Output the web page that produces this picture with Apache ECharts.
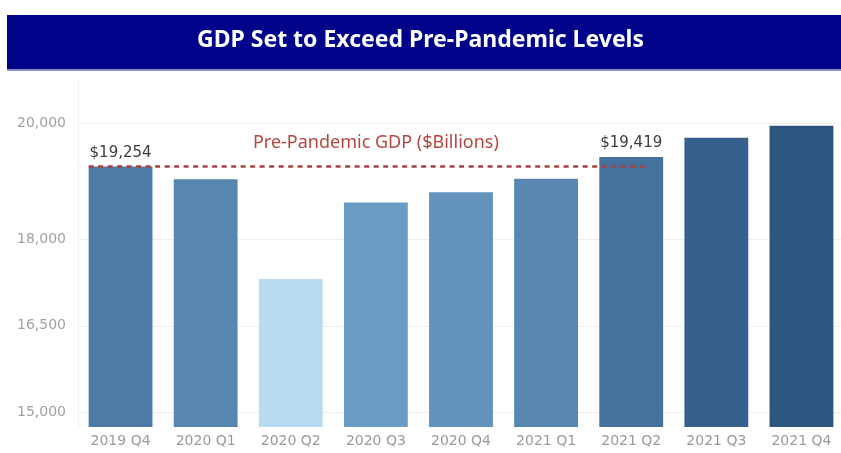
<!DOCTYPE html>
<html>
<head>
<meta charset="utf-8">
<title>GDP Set to Exceed Pre-Pandemic Levels</title>
<script src="https://cdn.jsdelivr.net/npm/echarts@6/dist/echarts.min.js"></script>
<style>
    html, body { margin: 0; padding: 0; background: #fff; }
    #gdp_chart { width: 841px; height: 453px; }
</style>
</head>
<body>
<div id="gdp_chart"></div>
<script>
// 季度
var quarters = ['2019 Q4', '2020 Q1', '2020 Q2', '2020 Q3', '2020 Q4', '2021 Q1', '2021 Q2', '2021 Q3', '2021 Q4'];
// GDP ($Billions)
var gdpValues = [19254, 19036, 17311, 18631, 18811, 19041, 19419, 19751, 19958];
// 带数值标签的柱子
var labelledQuarters = ['2019 Q4', '2021 Q2'];
// 纵轴显示的刻度
var yTickLabels = [15000, 16500, 18000, 20000];
// 疫情前水平
var prePandemicGdp = 19254;
var prePandemicSpan = [-0.375, 6.2];

init();

function init() {
    let fontFamily = 'DejaVu Sans';

    let barData = gdpValues.map(function (v, i) {
        if (labelledQuarters.indexOf(quarters[i]) >= 0) {
            return {value: v, label: {show: true}};
        }
        return v;
    });

    let option = {
        animation: false,
        title: {
            text: 'GDP Set to Exceed Pre-Pandemic Levels',
            left: 'center',
            top: 29,
            padding: 0,
            textStyle: {
                color: '#fff',
                fontFamily: 'Noto Sans',
                fontWeight: 'bold',
                fontSize: 23
            }
        },
        graphic: [
            {type: 'rect', z: -1, shape: {x: 7, y: 15, width: 834, height: 54}, style: {fill: '#01028a'}},
            {type: 'rect', z: -1, shape: {x: 7, y: 69, width: 834, height: 2}, style: {fill: '#8a8fc4'}}
        ],
        grid: {
            left: 78,
            top: 80,
            width: 766,
            height: 347,
            containLabel: false,
            outerBoundsMode: 'none'
        },
        visualMap: {
            show: false,
            seriesIndex: 0,
            min: 17311,
            max: 19958,
            inRange: {
                color: ['#b7dbef', '#6a9dc6', '#2c5580']
            }
        },
        xAxis: [
            {
                type: 'category',
                data: quarters,
                axisLine: {show: false},
                axisTick: {show: false},
                axisLabel: {
                    color: '#9a9a9a',
                    fontFamily: fontFamily,
                    fontSize: 14,
                    margin: 7
                }
            },
            {
                type: 'value',
                min: -0.5,
                max: quarters.length - 0.5,
                show: false
            }
        ],
        yAxis: {
            type: 'value',
            min: 14750,
            max: 20750,
            interval: 250,
            axisLine: {show: true, onZero: false, lineStyle: {color: '#efefef'}},
            axisTick: {show: false},
            splitLine: {show: false},
            axisLabel: {
                color: '#a0a0a0',
                fontFamily: fontFamily,
                fontSize: 14,
                margin: 12,
                formatter: function (v) {
                    return yTickLabels.indexOf(v) >= 0 ? v.toLocaleString('en-US') : '';
                }
            }
        },
        series: [
            {
                name: 'GDP',
                type: 'bar',
                barCategoryGap: '25%',
                data: barData,
                label: {
                    show: false,
                    position: 'top',
                    distance: 6,
                    color: '#3c3c3c',
                    fontFamily: fontFamily,
                    fontSize: 15,
                    formatter: function (p) {
                        return '$' + p.value.toLocaleString('en-US');
                    }
                },
                // 横向网格线，放在柱子后面
                markLine: {
                    silent: true,
                    z: 0,
                    symbol: 'none',
                    label: {show: false},
                    lineStyle: {color: '#eeeeee', type: 'solid', width: 1},
                    data: yTickLabels.map(function (v) { return {yAxis: v}; })
                },
                z: 2
            },
            {
                // 疫情前 GDP 参考线
                name: 'Pre-Pandemic GDP',
                type: 'line',
                xAxisIndex: 1,
                symbol: 'none',
                data: prePandemicSpan.map(function (x) { return [x, prePandemicGdp]; }),
                lineStyle: {color: '#a8403f', width: 2.5, type: [5, 4.5]},
                z: 3,
                markPoint: {
                    symbol: 'circle',
                    symbolSize: 0,
                    data: [{coord: [3, prePandemicGdp]}],
                    label: {
                        show: true,
                        offset: [0, -24],
                        formatter: 'Pre-Pandemic GDP ($Billions)',
                        color: '#b5473f',
                        fontFamily: 'Noto Sans',
                        fontSize: 18
                    }
                }
            }
        ]
    };

    let gdp_chart = echarts.init(document.getElementById('gdp_chart'));
    gdp_chart.setOption(option);
}
</script>
</body>
</html>
